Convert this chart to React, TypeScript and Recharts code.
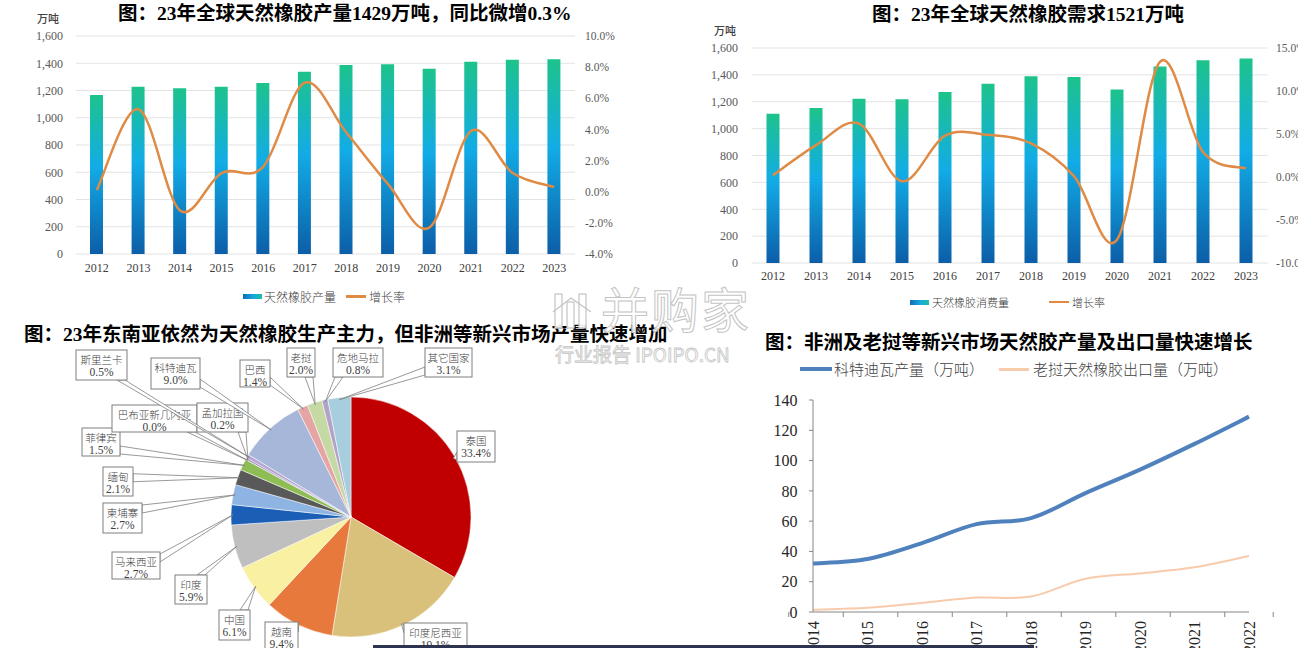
import React from "react";
import {
  ComposedChart,
  LineChart,
  PieChart,
  Pie,
  Cell,
  Bar,
  Line,
  XAxis,
  YAxis,
  CartesianGrid,
} from "recharts";

// --- data -------------------------------------------------------------
const YEARS = ["2012", "2013", "2014", "2015", "2016", "2017", "2018", "2019", "2020", "2021", "2022", "2023"];
const OUTPUT = [1167, 1228, 1216, 1228, 1255, 1338, 1387, 1392, 1360, 1411, 1426, 1429];
const OUTPUT_GROWTH = [0.1, 5.3, -1.2, 1.2, 1.6, 7.0, 3.8, 0.5, -2.3, 3.9, 1.2, 0.3];
const DEMAND = [1111, 1153, 1223, 1218, 1272, 1334, 1389, 1384, 1292, 1463, 1508, 1521];
const DEMAND_GROWTH = [0.2, 3.7, 6.2, -0.5, 4.8, 4.9, 3.9, 0.1, -7.3, 13.4, 2.9, 1.0];

const LEFT_TICKS = [0, 200, 400, 600, 800, 1000, 1200, 1400, 1600];
const OUTPUT_RATE_TICKS = [-4, -2, 0, 2, 4, 6, 8, 10];
const DEMAND_RATE_TICKS = [-10, -5, 0, 5, 10, 15];

const PIE_NAMES = ["泰国", "印度尼西亚", "越南", "中国", "印度", "马来西亚", "柬埔寨", "缅甸", "菲律宾", "巴布亚新几内亚", "孟加拉国", "斯里兰卡", "科特迪瓦", "巴西", "老挝", "危地马拉", "其它国家"];
const PIE_VALUES = [33.4, 19.1, 9.4, 6.1, 5.9, 2.7, 2.7, 2.1, 1.5, 0.04, 0.2, 0.5, 9.0, 1.4, 2.0, 0.8, 3.1];

const EM_YEARS = ["2014", "2015", "2016", "2017", "2018", "2019", "2020", "2021", "2022"];
const CIV_OUTPUT = [32, 35, 45.5, 58, 62, 78.5, 94, 111, 129];
const LAOS_EXPORT = [1.5, 2.8, 6, 9.5, 10.2, 22, 25.5, 29.5, 37];
const EM_TICKS = [0, 20, 40, 60, 80, 100, 120, 140];

// --- styles -------------------------------------------------------------
const SERIF = '"Liberation Serif", "Noto Sans CJK SC", serif';
const CJK = '"Noto Sans CJK SC", sans-serif';
const ORANGE = "#DF8A45";
const TICK_GREY = "#595959";

const PIE_COLORS = ["#C00000", "#D9C17B", "#E8793C", "#FAF0A2", "#BFBFBF", "#1B5EB6", "#8DB4E2", "#595959", "#8FBD55", "#4BACC6", "#7F64A2", "#B7A6D2", "#A6B7D9", "#E6A5A5", "#C5D9A4", "#B3A2C7", "#A7CEDE"];
// callout boxes [x, y, w, h] in page coords
const CALLOUT_BOXES = [
  [457, 431, 38, 31],
  [404, 623, 63, 30],
  [265, 622, 33, 30],
  [219, 610, 31, 30],
  [175, 575, 32, 29],
  [112, 552, 48, 27],
  [103, 503, 39, 30],
  [103, 467, 30, 29],
  [82, 428, 38, 28],
  [112, 405, 85, 27],
  [197, 403, 51, 29],
  [76, 350, 51, 30],
  [151, 358, 49, 31],
  [240, 360, 30, 27],
  [287, 348, 28, 29],
  [333, 348, 50, 29],
  [425, 348, 47, 29],
];
const PIE_TOP = 320;
const RAD = Math.PI / 180;

const outputData = YEARS.map((y, i) => ({ year: y, value: OUTPUT[i], growth: OUTPUT_GROWTH[i] }));
const demandData = YEARS.map((y, i) => ({ year: y, value: DEMAND[i], growth: DEMAND_GROWTH[i] }));
const pieData = PIE_NAMES.map((n, i) => ({ name: n, value: PIE_VALUES[i] }));
const emData = EM_YEARS.map((y, i) => ({ year: y, civ: CIV_OUTPUT[i], laos: LAOS_EXPORT[i] }));

// excel-like smoothed line (catmull-rom as bezier)
const excelSmooth: any = (context: any) => {
  let pts: number[][] = [];
  return {
    areaStart() {},
    areaEnd() {},
    lineStart() {
      pts = [];
    },
    point(x: number, y: number) {
      pts.push([+x, +y]);
    },
    lineEnd() {
      if (!pts.length) return;
      context.moveTo(pts[0][0], pts[0][1]);
      for (let i = 0; i < pts.length - 1; i++) {
        const p0 = pts[i - 1] || pts[i];
        const p1 = pts[i];
        const p2 = pts[i + 1];
        const p3 = pts[i + 2] || p2;
        context.bezierCurveTo(
          p1[0] + (p2[0] - p0[0]) / 6,
          p1[1] + (p2[1] - p0[1]) / 6,
          p2[0] - (p3[0] - p1[0]) / 6,
          p2[1] - (p3[1] - p1[1]) / 6,
          p2[0],
          p2[1]
        );
      }
    },
  };
};

const fmtThousands = (v: number) => v.toLocaleString("en-US");
const fmtPct = (v: number) => `${v.toFixed(1)}%`;

function wedgeBase(bx: number, by: number, bw: number, bh: number, tx: number, ty: number) {
  const dx = tx - (bx + bw / 2);
  const dy = ty - (by + bh / 2);
  const hw = 4;
  if (Math.abs(dy) * bw >= Math.abs(dx) * bh) {
    const ey = dy > 0 ? by + bh : by;
    const ex = Math.min(Math.max(tx, bx + hw + 2), bx + bw - hw - 2);
    return [[ex - hw, ey], [ex + hw, ey]];
  }
  const ex = dx > 0 ? bx + bw : bx;
  const ey = Math.min(Math.max(ty, by + hw + 2), by + bh - hw - 2);
  return [[ex, ey - hw], [ex, ey + hw]];
}

const renderCallout = (props: any) => {
  const { cx, cy, midAngle, outerRadius, index } = props;
  const r = Number(outerRadius) - 2;
  const tipX = Number(cx) + r * Math.cos(-midAngle * RAD);
  const tipY = Number(cy) + r * Math.sin(-midAngle * RAD);
  const [bx, byAbs, bw, bh] = CALLOUT_BOXES[index];
  const by = byAbs - PIE_TOP;
  const base = wedgeBase(bx, by, bw, bh, tipX, tipY);
  return (
    <g key={`callout-${index}`}>
      <polygon
        points={`${base[0][0]},${base[0][1]} ${base[1][0]},${base[1][1]} ${tipX},${tipY}`}
        fill="#fff"
        stroke="#7f7f7f"
        strokeWidth={0.8}
      />
      <rect x={bx} y={by} width={bw} height={bh} fill="#fff" stroke="#7f7f7f" strokeWidth={1} />
      <text x={bx + bw / 2} y={by + 9} textAnchor="middle" dominantBaseline="central" fontFamily={CJK} fontSize={10.5} fontWeight={300} fill="#404040">
        {PIE_NAMES[index]}
      </text>
      <text x={bx + bw / 2} y={by + 21.5} textAnchor="middle" dominantBaseline="central" fontFamily={SERIF} fontSize={11.5} fill="#404040">
        {fmtPct(PIE_VALUES[index])}
      </text>
    </g>
  );
};

// rotated year labels, tick marks between categories (excel style)
const EM_PLOT_W = 436;
const EmYearTick = (props: any) => {
  const { x, y, payload, index } = props;
  const half = EM_PLOT_W / EM_YEARS.length / 2;
  return (
    <g>
      <line x1={x - half} x2={x - half} y1={y} y2={y + 5} stroke="#868686" />
      {index === EM_YEARS.length - 1 && <line x1={x + half} x2={x + half} y1={y} y2={y + 5} stroke="#868686" />}
      <text x={x} y={y + 9} transform={`rotate(-90 ${x} ${y + 9})`} textAnchor="end" dominantBaseline="central" fontFamily={SERIF} fontSize={16} fill="#262626">
        {payload.value}
      </text>
    </g>
  );
};

const titleStyle: React.CSSProperties = {
  position: "absolute",
  fontFamily: SERIF,
  fontWeight: 700,
  fontSize: 19.5,
  lineHeight: "24px",
  whiteSpace: "nowrap",
  color: "#000",
};

const legendText = (size: number): React.CSSProperties => ({
  position: "absolute",
  fontFamily: CJK,
  fontWeight: 300,
  fontSize: size,
  lineHeight: `${size + 4}px`,
  color: "#404040",
  whiteSpace: "nowrap",
});

const BAR_SWATCH = "linear-gradient(90deg, #0F6DB5, #18A9DF 55%, #1BBFA0)";

export default function App() {
  const tickStyle = { fontFamily: SERIF, fontSize: 12, fill: TICK_GREY };
  return (
    <div style={{ position: "absolute", left: 0, top: 0, width: 1298, height: 648, overflow: "hidden", background: "#fff" }}>
      <svg width={0} height={0} style={{ position: "absolute" }}>
        <defs>
          <linearGradient id="barGrad" x1="0" y1="0" x2="0" y2="1">
            <stop offset="0%" stopColor="#1DC38B" />
            <stop offset="45%" stopColor="#12ACE6" />
            <stop offset="100%" stopColor="#0C5EA8" />
          </linearGradient>
        </defs>
      </svg>

      {/* chart 1: production */}
      <div style={{ ...titleStyle, left: 118, top: 2 }}>图：23年全球天然橡胶产量1429万吨，同比微增0.3%</div>
      <div style={{ ...legendText(11), left: 37, top: 11, fontWeight: 500 }}>万吨</div>
      <div style={{ position: "absolute", left: 0, top: 0 }}>
        <ComposedChart width={650} height={310} data={outputData} margin={{ top: 36, right: 15, bottom: 26, left: 0 }}>
          <CartesianGrid vertical={false} stroke="#E3E3E3" yAxisId="left" />
          <XAxis dataKey="year" axisLine={false} tickLine={false} tickSize={0} tickMargin={9} height={30} tick={{ ...tickStyle, fill: "#404040" }} interval={0} />
          <YAxis yAxisId="left" width={76} domain={[0, 1600]} ticks={LEFT_TICKS} axisLine={false} tickLine={false} tickSize={0} tickMargin={13} tick={tickStyle} tickFormatter={fmtThousands} />
          <YAxis yAxisId="right" orientation="right" width={60} domain={[-4, 10]} ticks={OUTPUT_RATE_TICKS} axisLine={false} tickLine={false} tickSize={0} tickMargin={10} tick={{ ...tickStyle, fontSize: 11.5 }} tickFormatter={fmtPct} />
          <Bar yAxisId="left" dataKey="value" barSize={13} fill="url(#barGrad)" isAnimationActive={false} />
          <Line yAxisId="right" dataKey="growth" type={excelSmooth} stroke={ORANGE} strokeWidth={2.5} dot={false} isAnimationActive={false} />
        </ComposedChart>
      </div>
      <div style={{ position: "absolute", left: 243, top: 294, width: 19, height: 5, background: BAR_SWATCH }} />
      <div style={{ ...legendText(12), left: 264, top: 289 }}>天然橡胶产量</div>
      <div style={{ position: "absolute", left: 346, top: 295, width: 20, height: 2.5, background: ORANGE }} />
      <div style={{ ...legendText(12), left: 369, top: 289 }}>增长率</div>

      {/* chart 2: demand */}
      <div style={{ ...titleStyle, left: 872, top: 3 }}>图：23年全球天然橡胶需求1521万吨</div>
      <div style={{ ...legendText(11), left: 714, top: 23, fontWeight: 500 }}>万吨</div>
      <div style={{ position: "absolute", left: 650, top: 0 }}>
        <ComposedChart width={648} height={310} data={demandData} margin={{ top: 48, right: 0, bottom: 17, left: 0 }}>
          <CartesianGrid vertical={false} stroke="#E3E3E3" yAxisId="left" />
          <XAxis dataKey="year" axisLine={false} tickLine={false} tickSize={0} tickMargin={8} height={30} tick={{ ...tickStyle, fill: "#404040" }} interval={0} />
          <YAxis yAxisId="left" width={101.5} domain={[0, 1600]} ticks={LEFT_TICKS} axisLine={false} tickLine={false} tickSize={0} tickMargin={13.5} tick={tickStyle} tickFormatter={fmtThousands} />
          <YAxis yAxisId="right" orientation="right" width={30.5} domain={[-10, 15]} ticks={DEMAND_RATE_TICKS} axisLine={false} tickLine={false} tickSize={0} tickMargin={8.5} tick={{ ...tickStyle, fontSize: 11.5, textAnchor: "start" }} tickFormatter={fmtPct} />
          <Bar yAxisId="left" dataKey="value" barSize={13} fill="url(#barGrad)" isAnimationActive={false} />
          <Line yAxisId="right" dataKey="growth" type={excelSmooth} stroke={ORANGE} strokeWidth={2.5} dot={false} isAnimationActive={false} />
        </ComposedChart>
      </div>
      <div style={{ position: "absolute", left: 910, top: 299.5, width: 19, height: 5, background: BAR_SWATCH }} />
      <div style={{ ...legendText(11), left: 932, top: 294.5 }}>天然橡胶消费量</div>
      <div style={{ position: "absolute", left: 1049, top: 300.5, width: 20, height: 2.5, background: ORANGE }} />
      <div style={{ ...legendText(11), left: 1072, top: 294.5 }}>增长率</div>

      {/* chart 3: pie */}
      <div style={{ ...titleStyle, left: 24, top: 323 }}>图：23年东南亚依然为天然橡胶生产主力，但非洲等新兴市场产量快速增加</div>
      <div style={{ position: "absolute", left: 0, top: PIE_TOP }}>
        <PieChart width={680} height={328} margin={{ top: 0, right: 0, bottom: 0, left: 0 }}>
          <Pie
            data={pieData}
            dataKey="value"
            nameKey="name"
            cx={351}
            cy={197}
            outerRadius={120}
            startAngle={90}
            endAngle={-270}
            stroke="#fff"
            strokeWidth={0.5}
            label={renderCallout}
            labelLine={false}
            isAnimationActive={false}
          >
            {pieData.map((d, i) => (
              <Cell key={d.name} fill={PIE_COLORS[i]} />
            ))}
          </Pie>
        </PieChart>
      </div>

      {/* chart 4: emerging markets */}
      <div style={{ ...titleStyle, left: 765, top: 331 }}>图：非洲及老挝等新兴市场天然胶产量及出口量快速增长</div>
      <div style={{ position: "absolute", left: 800, top: 367, width: 32, height: 4, background: "#4F81BD" }} />
      <div style={{ ...legendText(15), left: 834, top: 359 }}>科特迪瓦产量（万吨）</div>
      <div style={{ position: "absolute", left: 999, top: 368, width: 30, height: 2.5, background: "#F8CBAD" }} />
      <div style={{ ...legendText(15), left: 1033, top: 359 }}>老挝天然橡胶出口量（万吨）</div>
      <div style={{ position: "absolute", left: 680, top: 380 }}>
        <LineChart width={618} height={268} data={emData} margin={{ top: 20, right: 49, bottom: 0, left: 0 }}>
          <XAxis dataKey="year" height={36} interval={0} axisLine={{ stroke: "#868686" }} tickLine={false} tickSize={0} tickMargin={0} tick={<EmYearTick />} />
          <YAxis width={133} domain={[0, 140]} ticks={EM_TICKS} axisLine={{ stroke: "#868686" }} tickLine={{ stroke: "#868686" }} tickSize={4} tickMargin={11.5} tick={{ fontFamily: SERIF, fontSize: 16, fill: "#262626" }} />
          <Line dataKey="laos" type={excelSmooth} stroke="#F8CBAD" strokeWidth={2} dot={false} isAnimationActive={false} />
          <Line dataKey="civ" type={excelSmooth} stroke="#4F81BD" strokeWidth={4} dot={false} isAnimationActive={false} />
        </LineChart>
      </div>

      {/* watermark */}
      <div style={{ position: "absolute", left: 551, top: 286, pointerEvents: "none" }}>
        <svg width={48} height={44} style={{ position: "absolute", left: 0, top: 2 }}>
          <g fill="rgba(255,255,255,0.9)" stroke="#c4c4c4" strokeWidth={1.2}>
            <rect x={4} y={6} width={7} height={34} />
            <rect x={16} y={14} width={7} height={26} />
            <rect x={28} y={6} width={7} height={34} />
            <polyline points="2,24 20,10 40,24" fill="none" />
          </g>
        </svg>
        <div style={{ position: "absolute", left: 50, top: -6, fontFamily: CJK, fontSize: 48, fontWeight: 400, lineHeight: "54px", letterSpacing: 2, color: "rgba(255,255,255,0.88)", WebkitTextStroke: "1px #c4c4c4", whiteSpace: "nowrap" }}>
          并购家
        </div>
        <div style={{ position: "absolute", left: 4, top: 57, fontFamily: CJK, fontSize: 19, fontWeight: 400, lineHeight: "22px", color: "rgba(255,255,255,0.88)", WebkitTextStroke: "0.8px #c4c4c4", whiteSpace: "nowrap" }}>
          行业报告 IPOIPO.CN
        </div>
      </div>

      {/* bottom bar */}
      <div style={{ position: "absolute", left: 373, top: 645, width: 661, height: 3, background: "#2C3450" }} />
    </div>
  );
}
